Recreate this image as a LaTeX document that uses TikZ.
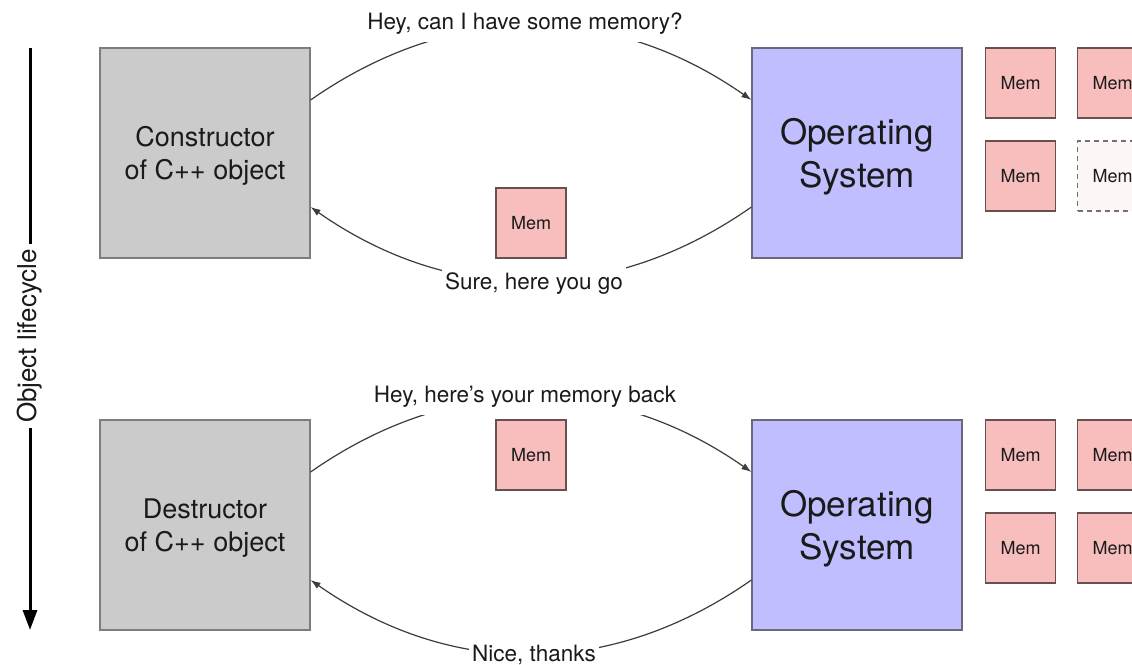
\documentclass[tikz,border=0pt]{standalone}
\usepackage{fontspec}
\setmainfont{TeX Gyre Heros}
\usetikzlibrary{arrows.meta}

\definecolor{inkc}{RGB}{26,26,26}
\definecolor{objfill}{RGB}{203,203,203}
\definecolor{objline}{RGB}{125,125,125}
\definecolor{osfill}{RGB}{193,190,255}
\definecolor{osline}{RGB}{105,105,125}
\definecolor{memfill}{RGB}{248,190,190}
\definecolor{memline}{RGB}{105,80,80}
\definecolor{freefill}{RGB}{253,246,246}
\definecolor{freeline}{RGB}{120,110,110}

\tikzset{
  bigbox/.style={rectangle, minimum width=210pt, minimum height=210pt,
    line width=1.2pt},
  objbox/.style={bigbox, fill=objfill, draw=objline},
  osbox/.style={bigbox, fill=osfill, draw=osline},
  objtext/.style={align=center, text=inkc, yshift=-3pt,
    font=\fontsize{27}{33}\selectfont},
  ostext/.style={align=center, text=inkc, yshift=-4pt,
    font=\fontsize{35}{43}\selectfont},
  membox/.style={rectangle, minimum width=70pt, minimum height=70pt,
    fill=memfill, draw=memline, line width=1.1pt,
    text=inkc, font=\fontsize{18}{20}\selectfont},
  freemem/.style={membox, fill=freefill, draw=freeline, dashed,
    dash pattern=on 5pt off 4pt},
  msg/.style={fill=white, text=inkc, inner xsep=3pt, inner ysep=7pt,
    font=\fontsize{22.5}{26}\selectfont},
  flow/.style={draw=inkc!85, line width=1.2pt,
    -{Latex[length=10pt,width=7pt]}},
  lifeline/.style={draw=black, line width=3pt},
}

\begin{document}
\begin{tikzpicture}[x=1pt,y=-1pt]
\useasboundingbox (0,0) rectangle (1132,664);
\clip (0,0) rectangle (1132,664);

% --- allocation (constructor) ---
\node[objbox, label={[objtext]center:Constructor\\of C++ object}] (ctor) at (205,153) {};
\node[osbox, label={[ostext]center:Operating\\System}] (ostop) at (857,153) {};
\node[membox] (mA) at (1020.5,83) {Mem};
\node[membox] (mB) at (1112.5,83) {Mem};
\node[membox] (mC) at (1020.5,176) {Mem};
\node[freemem] (mD) at (1112.5,176) {Mem};
\node[membox] (mgiven) at (531,223) {Mem};

\draw[flow] ([yshift=53pt]ctor.east) to[bend left=35] ([yshift=53pt]ostop.west);
\draw[flow] ([yshift=-54pt]ostop.west) to[bend left=35] ([yshift=-54pt]ctor.east);
\node[msg] (ask) at (525,24) {Hey, can I have some memory?};
\node[msg] (give) at (534,284) {Sure, here you go};

% --- release (destructor) ---
\node[objbox, label={[objtext]center:Destructor\\of C++ object}] (dtor) at (205,525) {};
\node[osbox, label={[ostext]center:Operating\\System}] (osbot) at (857,525) {};
\node[membox] (nA) at (1020.5,455) {Mem};
\node[membox] (nB) at (1112.5,455) {Mem};
\node[membox] (nC) at (1020.5,548) {Mem};
\node[membox] (nD) at (1112.5,548) {Mem};
\node[membox] (mback) at (531,455) {Mem};

\draw[flow] ([yshift=53pt]dtor.east) to[bend left=35] ([yshift=53pt]osbot.west);
\draw[flow] ([yshift=-55pt]osbot.west) to[bend left=35] ([yshift=-55pt]dtor.east);
\node[msg] (ret) at (525,397) {Hey, here’s your memory back};
\node[msg] (thx) at (534,655) {Nice, thanks};

% --- lifecycle axis ---
\coordinate (lifetop) at (30,48);
\coordinate (lifeend) at (30,630);
\node[rotate=90, text=inkc, inner sep=5pt,
  font=\fontsize{26}{30}\selectfont] (life) at (30,336) {Object lifecycle};
\draw[lifeline] (lifetop) -- (life.east);
\draw[lifeline, -{Triangle[length=20pt,width=14pt]}] (life.west) -- (lifeend);
\end{tikzpicture}
\end{document}
